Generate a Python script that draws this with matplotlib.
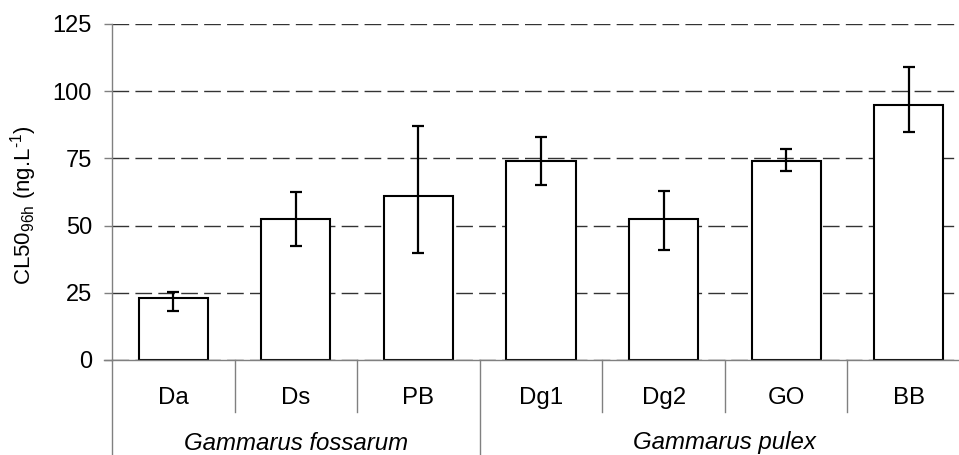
import matplotlib
matplotlib.use("Agg")
import matplotlib.pyplot as plt
import numpy as np

plt.rcParams['font.family'] = ['Liberation Sans', 'DejaVu Sans']
plt.rcParams['mathtext.fontset'] = 'custom'
plt.rcParams['mathtext.rm'] = 'Liberation Sans'
plt.rcParams['mathtext.it'] = 'Liberation Sans:italic'
plt.rcParams['lines.scale_dashes'] = False

# ---- data ----
categories = ["Da", "Ds", "PB", "Dg1", "Dg2", "GO", "BB"]
values = [23.0, 52.4, 61.1, 73.9, 52.4, 73.9, 94.8]
err_upper = [25.2, 62.6, 87.2, 82.8, 62.7, 78.4, 109.0]
err_lower = [18.3, 42.5, 39.7, 65.2, 41.0, 70.2, 84.8]
groups = ["Gammarus fossarum", "Gammarus pulex"]
group_sizes = [3, 4]
yticks = [0, 25, 50, 75, 100, 125]
ylabel = "CL50$_{\\mathrm{96h}}$ (ng.L$^{\\mathrm{\u20101}}$)"

W, H = 959, 455
fig = plt.figure(figsize=(W / 100, H / 100), dpi=100)
fig.patch.set_facecolor('white')

left_px, right_px, top_px, zero_px = 112, 970, 24, 360
ax = fig.add_axes([left_px / W, (H - zero_px) / H, (right_px - left_px) / W, (zero_px - top_px) / H])

x = np.arange(len(categories))
vals = np.array(values)
yerr = np.array([vals - np.array(err_lower), np.array(err_upper) - vals])

ax.set_axisbelow(True)
ax.yaxis.grid(True, color='#333333', linewidth=1.0, linestyle=(0, (12, 4.5)))
ax.bar(x, vals, width=0.565, color='white', edgecolor='black', linewidth=1.5, zorder=2)
ax.errorbar(x, vals, yerr=yerr, fmt='none', ecolor='black', elinewidth=1.6,
            capsize=4.3, capthick=1.6, zorder=3)

ax.set_xlim(-0.5, len(categories) - 0.5)
ax.set_ylim(0, 125)
ax.set_yticks(yticks)
ax.set_yticklabels([str(v) for v in yticks], fontsize=17)
ax.tick_params(axis='y', direction='out', length=5.5, width=1.0, color='#808080', pad=9)
ax.set_xticks([])

for s in ['top', 'right']:
    ax.spines[s].set_visible(False)
ax.spines['left'].set_color('#808080')
ax.spines['bottom'].set_color('#808080')
ax.spines['left'].set_linewidth(1.0)
ax.spines['bottom'].set_linewidth(1.0)

trans = ax.get_xaxis_transform()
ax_h = zero_px - top_px
y_short = -(412 - zero_px) / ax_h
y_long = -(H - zero_px + 2) / ax_h

# extend bottom axis line to the left like a tick
ax.plot([-0.5 - 8 / 122.6, -0.5], [0, 0], transform=trans, color='#808080', lw=1.0, clip_on=False)

# category separators
bounds = np.cumsum([0] + group_sizes) - 0.5
for k in range(1, len(categories)):
    xb = k - 0.5
    if xb in bounds:
        continue
    ax.plot([xb, xb], [0, y_short], transform=trans, color='#808080', lw=1.0, clip_on=False)
for xb in bounds:
    ax.plot([xb, xb], [0, y_long], transform=trans, color='#808080', lw=1.0, clip_on=False)

# category labels
y_cat = -(398 - zero_px) / ax_h
for xi, c in zip(x, categories):
    ax.text(xi, y_cat, c, transform=trans, ha='center', va='center', fontsize=17.3)

# group labels
y_grp = -(443 - zero_px) / ax_h
for i, g in enumerate(groups):
    center = (bounds[i] + bounds[i + 1]) / 2
    ax.text(center, y_grp, g, transform=trans, ha='center', va='center', fontsize=17.3, style='italic')

fig.text(24 / W, 1 - 205 / H, ylabel, rotation=90, ha='center', va='center', fontsize=16)

fig.savefig('out.png', dpi=100)
